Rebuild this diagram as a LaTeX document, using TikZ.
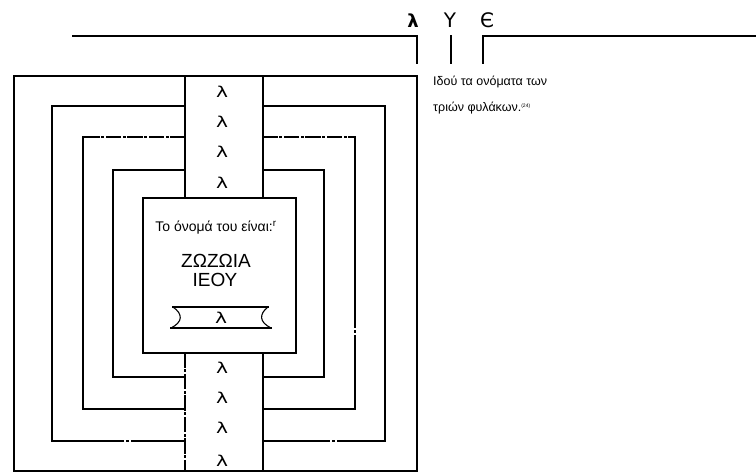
\documentclass[tikz,border=0pt]{standalone}
\usepackage{fontspec}
\setmainfont{Liberation Sans}
\newfontfamily\glyphfont{DejaVu Sans}
\newcommand{\wideglyph}[1]{\scalebox{1.35}[1]{#1}}

\tikzset{
    wall/.style={line width=1.1pt, line cap=rect},
    gate/.style={wall, dash pattern=on 14pt off 3pt on 1.5pt off 3pt},
    sigil/.style={font=\glyphfont\fontsize{15}{15}\selectfont}
}

\begin{document}
\begin{tikzpicture}[x=1pt, y=-1pt, every node/.style={inner sep=0pt}]
    \useasboundingbox (0,0) rectangle (756,473);

    % the three names on top
    \node[font=\glyphfont\bfseries\fontsize{18}{18}\selectfont] (lam) at (413,21) {λ};
    \node[font=\glyphfont\fontsize{20}{20}\selectfont] (ups) at (450,20) {Υ};
    \node[font=\glyphfont\fontsize{20}{20}\selectfont] (eps) at (487,20) {Є};

    \draw[wall] (73,36) -- (417,36) -- (417,63);
    \draw[wall] (451,36) -- (451,63);
    \draw[wall] (756,36) -- (483,36) -- (483,63);

    \node[anchor=west, align=left, font=\fontsize{12.5}{26}\selectfont] (note) at (433,95)
        {Ιδού τα ονόματα των\\τριών φυλάκων.\textsuperscript{\fontsize{5}{5}\selectfont(24)}};

    % outer wall
    \draw[wall] (14,76) rectangle (417,471);

    % second wall
    \draw[wall] (185,106) -- (52,106) -- (52,441) -- (123,441);
    \draw[wall] (127,441) -- (128,441);
    \draw[wall] (132,441) -- (185,441);
    \draw[wall] (263,106) -- (385,106) -- (385,441) -- (338,441);
    \draw[wall] (334,441) -- (333,441);
    \draw[wall] (329,441) -- (263,441);

    % third wall
    \draw[gate] (185,137) -- (83,137);
    \draw[wall] (83,137) -- (83,409) -- (185,409);
    \draw[gate] (263,137) -- (355,137);
    \draw[wall] (355,137) -- (355,327);
    \draw[wall] (355,331) -- (355,332);
    \draw[wall] (355,336) -- (355,409) -- (263,409);

    % fourth wall
    \draw[wall] (185,170) -- (113,170) -- (113,377) -- (185,377);
    \draw[wall] (263,170) -- (324,170) -- (324,377) -- (263,377);

    % passage
    \draw[wall] (185,76) -- (185,198);
    \draw[wall] (263,76) -- (263,198);
    \draw[gate] (185,353) -- (185,471);
    \draw[wall] (263,353) -- (263,471);

    \node[sigil] (p1) at (222,92) {\wideglyph{λ}};
    \node[sigil] (p2) at (222,122) {\wideglyph{λ}};
    \node[sigil] (p3) at (222,152) {\wideglyph{λ}};
    \node[sigil] (p4) at (222,183) {\wideglyph{λ}};
    \node[sigil] (p5) at (222,368) {\wideglyph{λ}};
    \node[sigil] (p6) at (222,398) {\wideglyph{λ}};
    \node[sigil] (p7) at (222,428) {\wideglyph{λ}};
    \node[sigil] (p8) at (222,461) {\wideglyph{λ}};

    % inner chamber
    \draw[wall] (143,198) rectangle (296,353);
    \node[font=\fontsize{14}{14}\selectfont] (name) at (216,228) {Το όνομά του είναι:\textsuperscript{r}};
    \node[font=\fontsize{19}{19}\selectfont] (zoz) at (216,261) {ΖΩΖΩΙΑ};
    \node[font=\fontsize{19}{19}\selectfont] (ieou) at (215,280) {ΙΕΟΥ};

    % scroll
    \draw[wall] (173,307) -- (268,307);
    \draw[wall] (171,328) -- (271,328);
    \draw[wall] (173,307) .. controls (183,314) and (183,322) .. (171,328);
    \draw[wall] (268,307) .. controls (259,314) and (259,322) .. (271,328);
    \node[sigil] (scr) at (221,318) {\wideglyph{λ}};
\end{tikzpicture}
\end{document}
